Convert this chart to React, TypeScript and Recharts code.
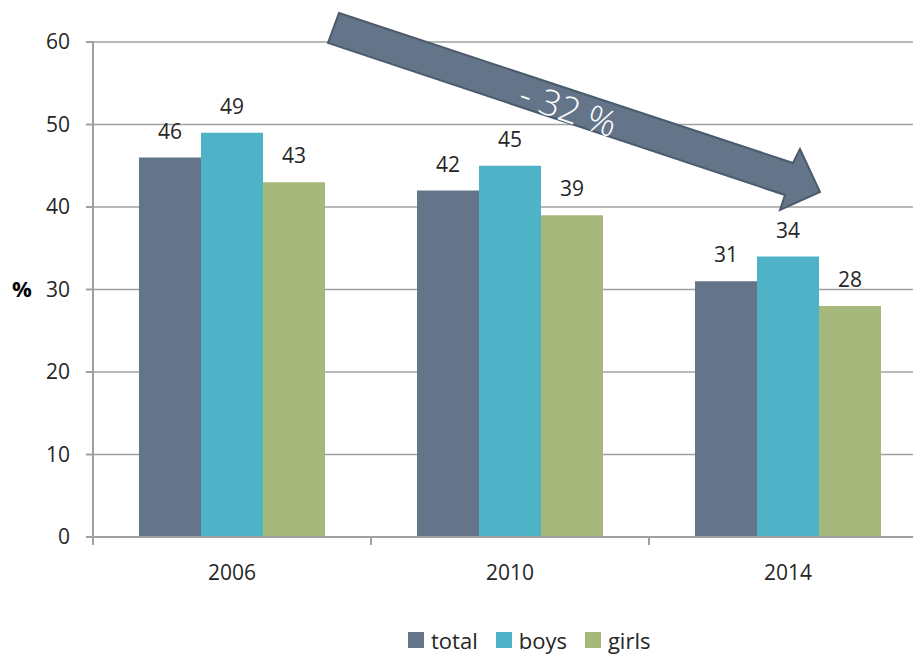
import React from "react";
import { BarChart, Bar, XAxis, YAxis, CartesianGrid, Legend, LabelList } from "recharts";

const years = ["2006", "2010", "2014"];
const total = [46, 42, 31];
const boys = [49, 45, 34];
const girls = [43, 39, 28];
const yTicks = [0, 10, 20, 30, 40, 50, 60];
const changeLabel = "- 32 %";

const data = years.map((year, i) => ({
  year,
  total: total[i],
  boys: boys[i],
  girls: girls[i],
}));

const CHART_W = 960;
const CHART_H = 659;
const MARGIN = { top: 42, right: 33, bottom: 82, left: 0 };
const Y_AXIS_W = 93;
const BAND = (CHART_W - MARGIN.left - MARGIN.right - Y_AXIS_W) / years.length;

const FONT = "'Open Sans', 'Segoe UI', sans-serif";
const TEXT = "#262626";
const GRID = "#a0a0a0";
const COLORS: Record<string, string> = {
  total: "#647589",
  boys: "#4fb3c8",
  girls: "#a7b87c",
};
const SERIES = ["total", "boys", "girls"];

// category ticks sit between groups, labels in the middle of each group
function YearTick({ x, y, payload, index }: any) {
  const left = x - BAND / 2;
  return (
    <g>
      <line x1={left} y1={y} x2={left} y2={y + 8} stroke={GRID} strokeWidth={2} />
      {index === years.length - 1 && (
        <line x1={x + BAND / 2} y1={y} x2={x + BAND / 2} y2={y + 8} stroke={GRID} strokeWidth={2} />
      )}
      <text x={x} y={y + 43} textAnchor="middle" fontSize={21} fill={TEXT} fontFamily={FONT}>
        {payload.value}
      </text>
    </g>
  );
}

function LegendContent() {
  return (
    <div style={{ display: "flex", alignItems: "center", fontFamily: FONT, fontSize: 22, lineHeight: "28px", color: TEXT }}>
      {SERIES.map((s) => (
        <span key={s} style={{ display: "flex", alignItems: "center", marginRight: 18 }}>
          <span style={{ width: 16, height: 16, background: COLORS[s], marginRight: 7 }} />
          {s}
        </span>
      ))}
    </div>
  );
}

function TrendArrow() {
  return (
    <svg width={913} height={659} style={{ position: "absolute", left: 0, top: 0, pointerEvents: "none" }}>
      <polygon
        points="339,13 793,163 800,149 820,192 780,210 785,195 328,43"
        fill="#64758a"
        stroke="#4b5b6c"
        strokeWidth={2}
        strokeLinejoin="miter"
      />
      <text
        x={568}
        y={122}
        transform="rotate(19 568 110)"
        textAnchor="middle"
        fontSize={36}
        fontWeight={300}
        fill="#ffffff"
        fontFamily={FONT}
      >
        {changeLabel}
      </text>
    </svg>
  );
}

export default function App() {
  return (
    <div style={{ position: "absolute", left: 0, top: 0, width: 913, height: 659, overflow: "hidden", background: "#fff" }}>
      <BarChart width={CHART_W} height={CHART_H} data={data} margin={MARGIN} barCategoryGap={46} barGap={0}>
        <CartesianGrid vertical={false} stroke={GRID} strokeWidth={1.5} />
        <XAxis
          dataKey="year"
          axisLine={{ stroke: GRID, strokeWidth: 2 }}
          tickLine={false}
          tickSize={0}
          tickMargin={0}
          height={40}
          interval={0}
          tick={<YearTick />}
        />
        <YAxis
          width={Y_AXIS_W}
          domain={[0, 60]}
          ticks={yTicks}
          interval={0}
          axisLine={{ stroke: GRID, strokeWidth: 2 }}
          tickLine={{ stroke: GRID, strokeWidth: 2 }}
          tickSize={7}
          tickMargin={16}
          tick={{ fontSize: 21, fill: TEXT, fontFamily: FONT }}
          label={{
            value: "%",
            position: "insideLeft",
            offset: 12,
            fontSize: 22,
            fontWeight: "bold",
            fill: "#000",
            fontFamily: FONT,
          }}
        />
        <Legend
          verticalAlign="middle"
          align="center"
          content={<LegendContent />}
          wrapperStyle={{ top: 626, left: 408, width: 320 }}
        />
        {SERIES.map((s) => (
          <Bar key={s} dataKey={s} fill={COLORS[s]} isAnimationActive={false}>
            <LabelList dataKey={s} position="top" offset={19} fontSize={21} fill={TEXT} fontFamily={FONT} />
          </Bar>
        ))}
      </BarChart>
      <TrendArrow />
    </div>
  );
}
